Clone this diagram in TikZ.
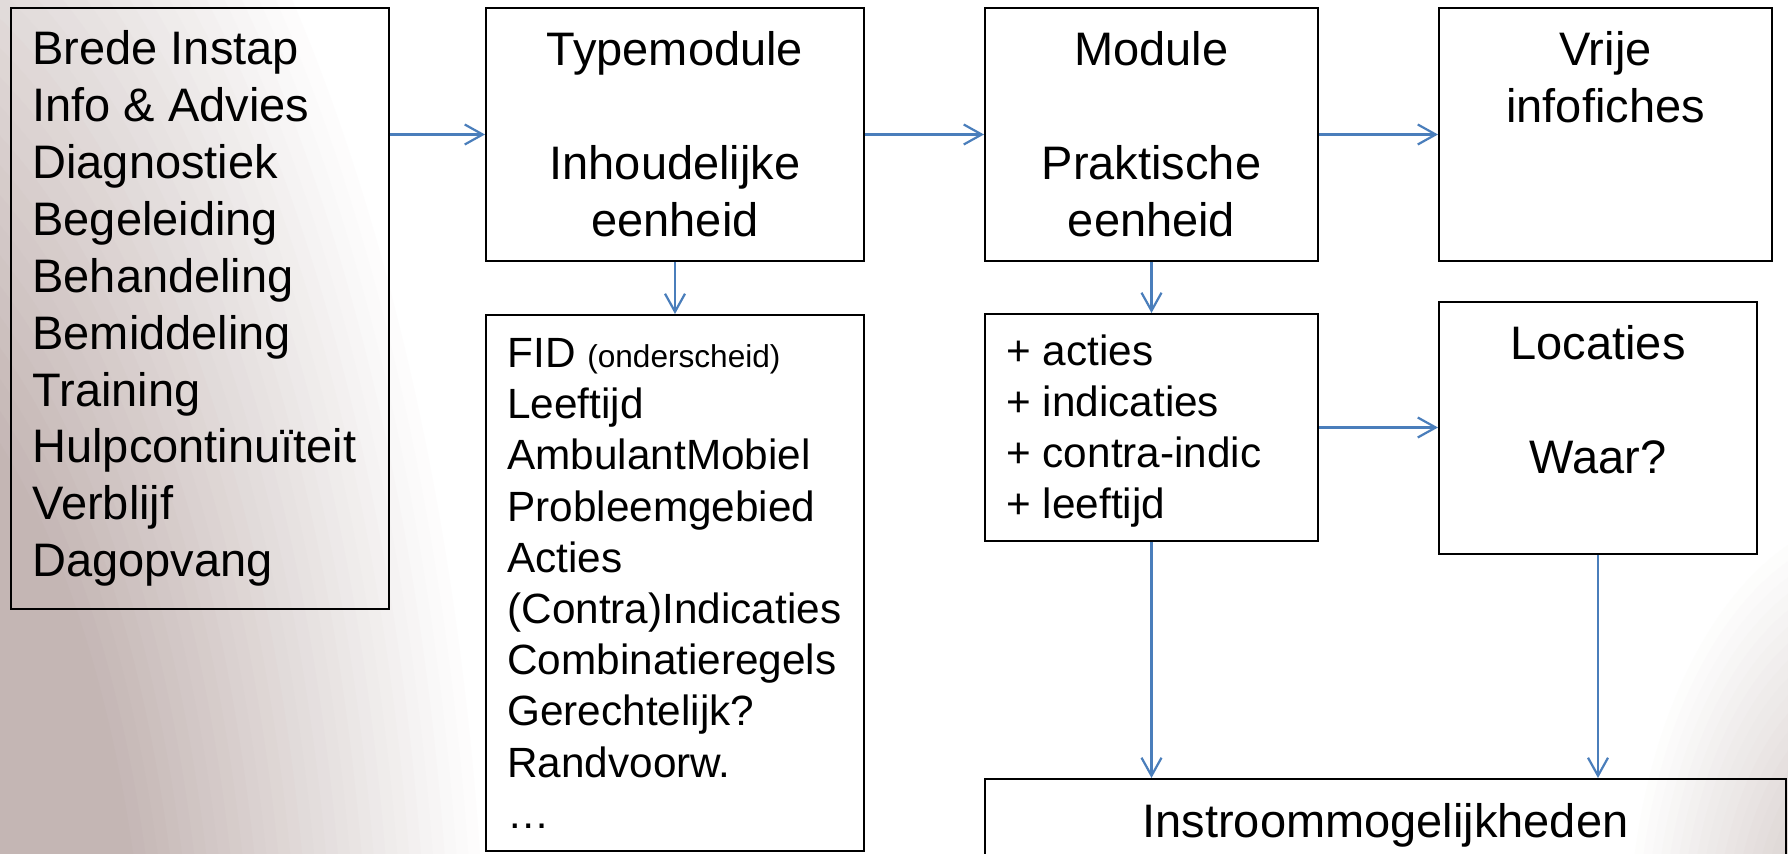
\documentclass[tikz,border=0pt]{standalone}
\usepackage{fontspec}
\setmainfont{Liberation Sans}
\usetikzlibrary{arrows.meta,fit}
\definecolor{arrowblue}{RGB}{74,126,187}
\definecolor{bgc}{RGB}{196,182,180}
\definecolor{bgd}{RGB}{216,208,206}
\newcommand\topA{\rule{0pt}{20pt}}
\newcommand\topB{\rule{0pt}{18pt}}
\tikzset{
  box/.style={draw=black, line width=1pt, inner sep=0pt},
  bigtext/.style={font=\fontsize{23.5pt}{28.45pt}\selectfont, inner sep=0pt},
  smalltext/.style={font=\fontsize{21.15pt}{25.6pt}\selectfont, inner sep=0pt, align=left, anchor=north west},
  arr/.style={draw=arrowblue, line width=1.1pt, -{Straight Barb[length=9pt,width=10pt]}},
}
\begin{document}
\begin{tikzpicture}[x=0.5pt,y=-0.5pt]
\useasboundingbox (0,0) rectangle (1788,854);
\begin{scope}
\clip (0,0) rectangle (1788,854);
\fill[white] (0,0) rectangle (1788,854);
\foreach \k in {0,...,30} {
  \pgfmathsetmacro\f{1-\k/60}
  \pgfmathsetmacro\p{200*(1-\f)}
  \fill[bgc!\p!white] (-200,1100) ellipse [x radius={700*\f}, y radius={1600*\f}];
}
\foreach \k in {0,...,20} {
  \pgfmathsetmacro\f{1-\k/30}
  \pgfmathsetmacro\p{150*(1-\f)}
  \fill[bgd!\p!white] (1880,950) ellipse [x radius={260*\f}, y radius={450*\f}];
}

% boxes
\node[box, fit={(11,8) (389,609)}] (b1) {};
\node[box, fit={(486,8) (864,261)}] (b2) {};
\node[box, fit={(486,315) (864,851)}] (b3) {};
\node[box, fit={(985,8) (1318,261)}] (b4) {};
\node[box, fit={(985,314) (1318,541)}] (b5) {};
\node[box, fit={(1439,8) (1772,261)}] (b6) {};
\node[box, fit={(1439,302) (1757,554)}] (b7) {};
\node[box, fit={(985,779) (1786,900)}] (b8) {};

% texts
\node[bigtext, align=left, anchor=north west] (t1) at (32,24.3) {\topA Brede Instap\\Info \& Advies\\Diagnostiek\\Begeleiding\\Behandeling\\Bemiddeling\\Training\\Hulpcontinuïteit\\Verblijf\\Dagopvang};
\node[bigtext, align=center, anchor=north] (t2) at (675,25) {\topA Typemodule\\[28.45pt]Inhoudelijke\\eenheid};
\node[smalltext] (t3) at (507,331) {\topB FID {\fontsize{15.8pt}{18pt}\selectfont (onderscheid)}\\Leeftijd\\AmbulantMobiel\\Probleemgebied\\Acties\\(Contra)Indicaties\\Combinatieregels\\Gerechtelijk?\\Randvoorw.\\…};
\node[bigtext, align=center, anchor=north] (t4) at (1151.5,25) {\topA Module\\[28.45pt]Praktische\\eenheid};
\node[smalltext] (t5) at (1006,329) {\topB + acties\\+ indicaties\\+ contra-indic\\+ leeftijd};
\node[bigtext, align=center, anchor=north] (t6) at (1605.5,25) {\topA Vrije\\infofiches};
\node[bigtext, align=center, anchor=north] (t7) at (1598,319) {\topA Locaties\\[28.45pt]Waar?};
\node[bigtext, anchor=base] (t8) at (1385.5,837) {Instroommogelijkheden};

% connectors
\draw[arr] (b1.east |- b2.west) -- (b2.west);
\draw[arr] (b2.east) -- (b4.west);
\draw[arr] (b4.east) -- (b6.west |- b4.east);
\draw[arr] (b2.south) -- (b3.north);
\draw[arr] (b4.south) -- (b5.north);
\draw[arr] (b5.east) -- (b7.west |- b5.east);
\draw[arr] (b5.south) -- (b8.north -| b5.south);
\draw[arr] (b7.south) -- (b8.north -| b7.south);
\end{scope}
\end{tikzpicture}
\end{document}
